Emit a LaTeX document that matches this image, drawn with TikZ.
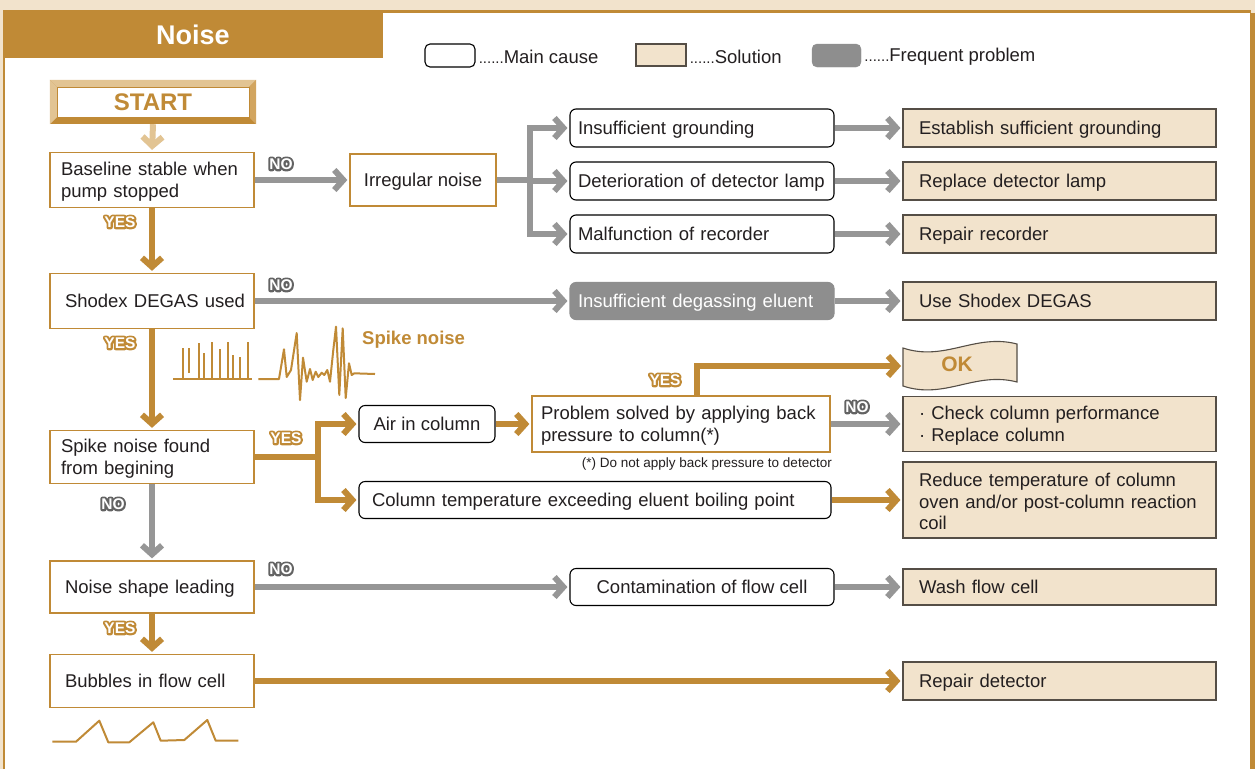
\documentclass[tikz,border=0pt]{standalone}
\usepackage{fontspec}
\setmainfont{Liberation Sans}
\usetikzlibrary{arrows.meta,calc}
\definecolor{goldc}{RGB}{192,138,54}
\definecolor{goldlt}{RGB}{226,196,147}
\definecolor{goldmd}{RGB}{210,165,95}
\definecolor{beigec}{RGB}{242,227,204}
\definecolor{grayarr}{RGB}{150,150,150}
\definecolor{grayfill}{RGB}{142,142,142}
\definecolor{graydk}{RGB}{100,100,100}
\definecolor{solbd}{RGB}{85,78,70}
\definecolor{txt}{RGB}{35,31,32}
\newcommand\mainfs{\fontsize{18.5}{21.5}\selectfont}
\newcommand\badgefs{\bfseries\fontsize{15.5}{15.5}\selectfont}
\newcommand\tstrut{\rule{0pt}{16.5pt}}
\newcommand\outl[3]{\rlap{\special{pdf:literal direct 1 j #2 w #1 RG #1 rg 2 Tr}#3\special{pdf:literal direct 0 Tr}}{\color{white}#3}}
\newcommand\mybadge[3]{\node[font=\badgefs, inner sep=0] (#1) at (#2) {#3};}
\newcommand\yesb{\outl{0.753 0.541 0.212}{4}{YES}}
\newcommand\nob{\outl{0.39 0.39 0.39}{4}{NO}}
\begin{document}
\begin{tikzpicture}[x=1pt,y=-1pt,
  cond/.style={draw=goldc, line width=1.3pt, fill=white, align=left, font=\mainfs, text=txt, minimum height=55, inner ysep=2},
  mc/.style={draw=black, line width=1.1pt, rounded corners=6pt, fill=white, font=\mainfs, text=txt, minimum height=38, inner ysep=2},
  sol/.style={draw=solbd, line width=1.1pt, fill=beigec, text width=281, inner xsep=16, align=left, font=\mainfs, text=txt, minimum height=38, inner ysep=2},
  one/.style={text height=17.5pt, text depth=4pt},
  lft/.style={text width=190, inner xsep=7},
  garr/.style={draw=grayarr, line width=6pt, -{Straight Barb[length=9pt,width=20pt]}, shorten >=2pt},
  gline/.style={draw=grayarr, line width=6pt},
  oarr/.style={draw=goldc, line width=6pt, -{Straight Barb[length=9pt,width=20pt]}, shorten >=2pt},
  oline/.style={draw=goldc, line width=6pt},
  spk/.style={draw=goldc, line width=2pt, line join=round}
]
\useasboundingbox (0,0) rectangle (1255,769);
% frame
\fill[beigec] (0,0) rectangle (1255,769);
\fill[white] (4,11) rectangle (1251,769);
\draw[goldc, line width=2.5pt] (4,769) -- (4,11.5) -- (1251,11.5);
\draw[goldc, line width=5pt] (1252.5,13) -- (1252.5,769);
\node[fill=goldc, minimum width=380, minimum height=45, inner sep=0, text=white, font=\bfseries\fontsize{27}{27}\selectfont] (title) at (193,35) {Noise};

% legend
\node[draw=black, line width=1.1pt, rounded corners=5pt, minimum width=50, minimum height=23, fill=white] (lg1) at (450,55.5) {};
\node[anchor=west, font=\mainfs, text=txt, inner sep=0] (lg1t) at ($(lg1.east)+(3,1)$) {{\fontsize{15}{15}\selectfont......}Main cause};
\node[draw=solbd, line width=1.1pt, minimum width=50, minimum height=22, fill=beigec] (lg2) at (661,55) {};
\node[anchor=west, font=\mainfs, text=txt, inner sep=0] (lg2t) at ($(lg2.east)+(3,1.5)$) {{\fontsize{15}{15}\selectfont......}Solution};
\node[draw=grayfill, fill=grayfill, rounded corners=5pt, minimum width=49, minimum height=23] (lg3) at (836.5,55.5) {};
\node[anchor=west, font=\mainfs, text=txt, inner sep=0] (lg3t) at ($(lg3.east)+(3,1.5)$) {{\fontsize{15}{15}\selectfont......}Frequent problem};

% START
\node[fill=goldc, minimum width=206, minimum height=44, inner sep=0] (start) at (153,102) {};
\fill[goldlt] (start.north west) -- (start.north east) -- ++(-7,7) -- ($(start.north west)+(7,7)$) -- cycle;
\fill[goldlt] (start.north west) -- ++(7,7) -- ($(start.south west)+(7,-7)$) -- (start.south west) -- cycle;
\fill[goldmd] (start.north east) -- ++(-7,7) -- ($(start.south east)+(-7,-7)$) -- (start.south east) -- cycle;
\node[fill=white, draw=goldc, line width=0.8pt, minimum width=192, minimum height=30, inner sep=0, text=goldc, font=\bfseries\fontsize{24}{24}\selectfont] (starttext) at (start) {START};

% left column
\node[cond, text width=182, inner xsep=11] (b1) at (152,180) {\tstrut Baseline stable when\\pump stopped};
\node[cond, one, lft] (b2) at (152,301) {\hspace*{8pt}Shodex DEGAS used};
\node[cond, text width=182, inner xsep=11, minimum height=53] (b3) at (152,457) {\tstrut Spike noise found\\from begining};
\node[cond, one, lft, minimum height=52] (b4) at (152,587) {\hspace*{8pt}Noise shape leading};
\node[cond, one, lft, minimum height=53] (b5) at (152,681) {\hspace*{8pt}Bubbles in flow cell};

% middle
\node[cond, one, align=center, minimum width=146, minimum height=52] (irr) at (423,180) {Irregular noise};
\node[mc, one, text width=248, inner xsep=8, align=left] (ins) at (702,128) {Insufficient grounding};
\node[mc, one, text width=248, inner xsep=8, align=left] (det) at (702,181) {Deterioration of detector lamp};
\node[mc, one, text width=248, inner xsep=8, align=left] (rec) at (702,234) {Malfunction of recorder};
\node[mc, one, draw=grayfill, fill=grayfill, text=white, text width=248, inner xsep=8, align=left, minimum height=37] (deg) at (702,301) {Insufficient degassing eluent};
\node[mc, one, minimum width=136, minimum height=37] (air) at (427,424) {Air in column};
\node[cond, text width=280, inner xsep=9, minimum height=56] (prob) at (681,424) {\tstrut Problem solved by applying back\\pressure to column(*)};
\node[anchor=east, font=\fontsize{13.5}{13.5}\selectfont, text=txt, inner sep=0] (note) at (832,464) {(*) Do not apply back pressure to detector};
\node[mc, one, text width=446, inner xsep=13, align=left, minimum height=37] (coltemp) at (595,500) {Column temperature exceeding eluent boiling point};
\node[mc, one, minimum width=264, minimum height=37] (cont) at (702,587) {Contamination of flow cell};

% solutions
\node[sol, one] (s1) at (1059.5,128) {Establish sufficient grounding};
\node[sol, one] (s2) at (1059.5,181) {Replace detector lamp};
\node[sol, one] (s3) at (1059.5,234) {Repair recorder};
\node[sol, one] (s4) at (1059.5,301) {Use Shodex DEGAS};
\node[sol, minimum height=55] (s5) at (1059.5,424) {\tstrut\textperiodcentered\ Check column performance\\\textperiodcentered\ Replace column};
\node[sol, minimum height=76] (s6) at (1059.5,500) {\tstrut Reduce temperature of column\\oven and/or post-column reaction\\coil};
\node[sol, one, minimum height=36] (s7) at (1059.5,587) {Wash flow cell};
\node[sol, one] (s8) at (1059.5,681) {Repair detector};

% OK banner
\draw[solbd, line width=1.1pt, fill=beigec] (903,348) .. controls (945,362) and (975,333) .. (1017,344) -- (1017,382) .. controls (975,371) and (945,400) .. (903,386) -- cycle;
\node[text=goldc, font=\bfseries\fontsize{21}{21}\selectfont, inner sep=0] (oktext) at (957,364) {OK};
\coordinate (okw) at (903,366);

% connectors
\draw[draw=goldlt, line width=6pt, -{Straight Barb[length=9pt,width=20pt]}, shorten >=2pt] (start.south) -- (b1.north);
\draw[garr] (b1.east) -- (irr.west);
\coordinate (j1) at (530,180);
\draw[gline] (irr.east) -- (j1);
\draw[garr] (j1) |- (ins.west);
\draw[garr] (j1 |- det) -- (det.west);
\draw[garr] (j1) |- (rec.west);
\draw[garr] (ins.east) -- (s1.west);
\draw[garr] (det.east) -- (s2.west);
\draw[garr] (rec.east) -- (s3.west);
\draw[oarr] (b1.south) -- (b2.north);
\draw[garr] (b2.east) -- (deg.west);
\draw[garr] (deg.east) -- (s4.west);
\draw[oarr] (b2.south) -- (b3.north);
\coordinate (j2) at (318,457);
\draw[oline] (b3.east) -- (j2);
\draw[oarr] (j2) |- (air.west);
\draw[oarr] (j2) |- (coltemp.west);
\draw[oarr] (air.east) -- (prob.west);
\draw[garr] (prob.east) -- (s5.west);
\coordinate (yk) at (697,366);
\draw[oarr] (prob.north -| yk) |- (okw);
\draw[oarr] (coltemp.east) -- (s6.west);
\draw[garr] (b3.south) -- (b4.north);
\draw[garr] (b4.east) -- (cont.west);
\draw[garr] (cont.east) -- (s7.west);
\draw[oarr] (b4.south) -- (b5.north);
\draw[oarr] (b5.east) -- (s8.west);

% badges
\mybadge{no1}{281,164}{\nob}
\mybadge{no2}{281,285}{\nob}
\mybadge{yes1}{120,222}{\yesb}
\mybadge{yes2}{120,343}{\yesb}
\mybadge{yes3}{286,438}{\yesb}
\mybadge{yes4}{665,380}{\yesb}
\mybadge{no3}{857,407}{\nob}
\mybadge{no4}{113,504}{\nob}
\mybadge{no5}{281,569}{\nob}
\mybadge{yes5}{120,628}{\yesb}

% spike sketches
\draw[spk] (173,379) -- (252,379);
\foreach \x/\t/\b in {182.7/348.3/379, 189.3/348.3/373, 198.7/343.3/379, 204.3/353.3/379, 211.7/342.3/379, 220/349.3/379, 227.7/342.3/379, 233.3/355/379, 240/356.7/379, 247.7/342.3/379}
  \draw[spk] (\x,\b) -- (\x,\t);
\draw[spk] (258.3,379) -- (279,379) -- (284,349.3) -- (286.7,377) -- (291,370) -- (296.7,333) -- (300,400) -- (303,357.7) -- (306.7,381.7) -- (310,369) -- (312.7,380) -- (315.7,371.7) -- (318.3,377) -- (321.7,372.7) -- (324.3,375) -- (327.3,370) -- (330,381.7) -- (333.3,350) -- (336,326.7) -- (339.3,395) -- (342.7,328.3) -- (345.7,398) -- (349,363.3) -- (351.7,375) -- (354.3,373.3) -- (375,374);
\node[text=goldc, font=\bfseries\fontsize{18.5}{18.5}\selectfont, anchor=west, inner sep=0] (spikelbl) at (362,339.5) {Spike noise};

% sawtooth
\draw[spk] (52.3,741.7) -- (76,741.7) -- (99.3,720.7) -- (108.3,742.3) -- (129.3,742.3) -- (153.3,722.3) -- (160.7,740.7) -- (184.3,740) -- (207.3,720) -- (215.7,740.7) -- (238.3,740.7);
\end{tikzpicture}
\end{document}
